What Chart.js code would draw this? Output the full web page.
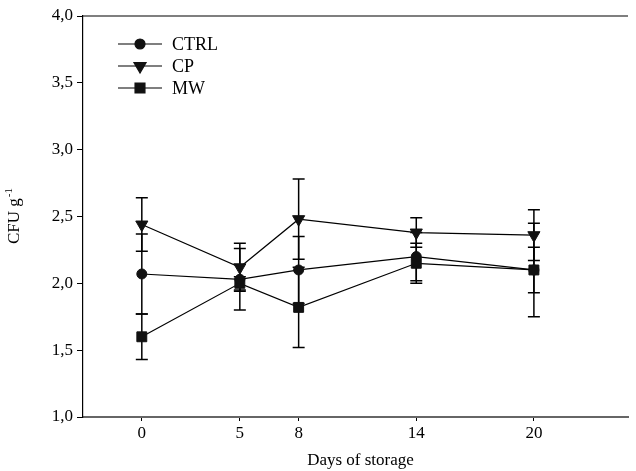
<!DOCTYPE html>
<html>
<head>
<meta charset="utf-8">
<script src="https://cdn.jsdelivr.net/npm/chart.js@4.4.1/dist/chart.umd.min.js"></script>
<style>
    html, body { margin: 0; padding: 0; background: #fff; }
    #wrap { width: 636px; height: 471px; }
</style>
</head>
<body>
<div id="wrap"><canvas id="cfuChart"></canvas></div>
<script>
// Days of storage (x positions)
const days = [0, 5, 8, 14, 20];

// Means and standard deviations
const ctrl = [2.07, 2.03, 2.10, 2.20, 2.10];
const ctrlErr = [0.30, 0.23, 0.25, 0.18, 0.35];
const cp = [2.44, 2.12, 2.48, 2.38, 2.36];
const cpErr = [0.20, 0.18, 0.30, 0.11, 0.19];
const mw = [1.60, 2.00, 1.82, 2.15, 2.10];
const mwErr = [0.17, 0.05, 0.30, 0.15, 0.17];

const FONT = "'Liberation Serif', 'DejaVu Serif', serif";

function series(label, values, errors, style, radius, rotation) {
    return {
        label: label,
        data: days.map((d, i) => ({ x: d, y: values[i] })),
        errors: errors,
        borderColor: '#000',
        borderWidth: 1.2,
        pointStyle: style,
        pointRadius: radius,
        pointRotation: rotation,
        pointBackgroundColor: '#111',
        pointBorderColor: '#111',
        pointBorderWidth: 1,
        tension: 0,
        fill: false
    };
}

// Error bars, drawn under the markers
const errorBars = {
    id: 'errorBars',
    beforeDatasetsDraw(chart) {
        const { ctx, scales: { x, y } } = chart;
        ctx.save();
        ctx.strokeStyle = '#000';
        ctx.lineWidth = 1.5;
        chart.data.datasets.forEach(ds => {
            ds.data.forEach((p, i) => {
                const px = x.getPixelForValue(p.x);
                const top = y.getPixelForValue(p.y + ds.errors[i]);
                const bot = y.getPixelForValue(p.y - ds.errors[i]);
                ctx.beginPath();
                ctx.moveTo(px, top); ctx.lineTo(px, bot);
                ctx.moveTo(px - 6, top); ctx.lineTo(px + 6, top);
                ctx.moveTo(px - 6, bot); ctx.lineTo(px + 6, bot);
                ctx.stroke();
            });
        });
        ctx.restore();
    }
};

// Frame top line, axis titles and the legend
const decorations = {
    id: 'decorations',
    afterDraw(chart) {
        const { ctx, chartArea: a } = chart;
        ctx.save();
        ctx.strokeStyle = '#000';
        ctx.lineWidth = 1.2;
        ctx.beginPath();
        ctx.moveTo(a.left, a.top);
        ctx.lineTo(a.right, a.top);
        ctx.stroke();

        ctx.fillStyle = '#000';
        // x title
        ctx.font = '17px ' + FONT;
        ctx.textAlign = 'center';
        ctx.textBaseline = 'middle';
        ctx.fillText('Days of storage', (a.left + a.right) / 2 + 5, 461);

        // y title with superscript
        ctx.translate(15, (a.top + a.bottom) / 2);
        ctx.rotate(-Math.PI / 2);
        ctx.textAlign = 'left';
        ctx.textBaseline = 'middle';
        ctx.font = '17px ' + FONT;
        const main = 'CFU g';
        const wMain = ctx.measureText(main).width;
        ctx.font = '11px ' + FONT;
        const wSup = ctx.measureText('-1').width;
        const start = -(wMain + wSup) / 2;
        ctx.font = '17px ' + FONT;
        ctx.fillText(main, start, 0);
        ctx.font = '11px ' + FONT;
        ctx.fillText('-1', start + wMain + 1, -6);
        ctx.setTransform(1, 0, 0, 1, 0, 0);
        ctx.restore();

        // legend
        ctx.save();
        const lx = a.left + 35;
        chart.data.datasets.forEach((ds, i) => {
            const ly = a.top + 28 + i * 22;
            ctx.strokeStyle = '#000';
            ctx.lineWidth = 1.2;
            ctx.beginPath();
            ctx.moveTo(lx, ly);
            ctx.lineTo(lx + 44, ly);
            ctx.stroke();
            ctx.fillStyle = '#111';
            ctx.strokeStyle = '#111';
            Chart.helpers.drawPoint(ctx, {
                pointStyle: ds.pointStyle,
                radius: ds.pointRadius,
                rotation: ds.pointRotation || 0,
                borderWidth: 1
            }, lx + 22, ly);
            ctx.fillStyle = '#000';
            ctx.font = '18px ' + FONT;
            ctx.textAlign = 'left';
            ctx.textBaseline = 'middle';
            ctx.fillText(ds.label, lx + 54, ly + 1);
        });
        ctx.restore();
    }
};

const ctx = document.getElementById('cfuChart').getContext('2d');
new Chart(ctx, {
    type: 'line',
    data: {
        datasets: [
            series('CTRL', ctrl, ctrlErr, 'circle', 5, 0),
            series('CP', cp, cpErr, 'triangle', 7, 180),
            series('MW', mw, mwErr, 'rect', 7, 0)
        ]
    },
    options: {
        responsive: true,
        maintainAspectRatio: false,
        animation: false,
        layout: { padding: { left: 0, top: 16, right: 0, bottom: 0 } },
        plugins: {
            legend: { display: false },
            tooltip: { enabled: false }
        },
        scales: {
            x: {
                type: 'linear',
                min: -3,
                max: 24.8,
                afterBuildTicks: function(scale) {
                    scale.ticks = days.map(d => ({ value: d }));
                },
                afterFit: function(scale) { scale.height = 54; },
                grid: { drawOnChartArea: false, drawTicks: true, tickLength: 4, color: '#000', lineWidth: 1 },
                border: { color: '#666', width: 2 },
                ticks: {
                    color: '#000',
                    font: { family: FONT, size: 17 },
                    padding: 2,
                    maxRotation: 0,
                    autoSkip: false
                }
            },
            y: {
                min: 1,
                max: 4,
                afterFit: function(scale) { scale.width = 83; },
                grid: { drawOnChartArea: false, drawTicks: true, tickLength: 6, color: '#000', lineWidth: 1 },
                border: { color: '#000', width: 1.2 },
                ticks: {
                    stepSize: 0.5,
                    color: '#000',
                    padding: 4,
                    font: { family: FONT, size: 17 },
                    callback: function(value) {
                        return value.toFixed(1).replace('.', ',');
                    }
                }
            }
        }
    },
    plugins: [errorBars, decorations]
});
</script>
</body>
</html>
